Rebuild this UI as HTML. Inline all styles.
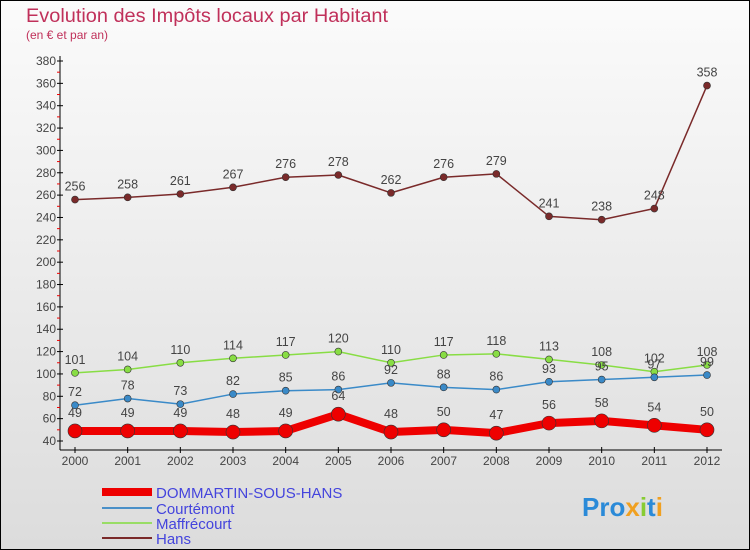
<!DOCTYPE html>
<html><head><meta charset="utf-8"><style>
body{margin:0;background:#fff}
svg{display:block;font-family:"Liberation Sans","DejaVu Sans",sans-serif}
</style></head><body>
<svg id="c" width="750" height="550" viewBox="0 0 750 550">
<defs><linearGradient id="bg" x1="0" y1="0" x2="0" y2="1"><stop offset="0" stop-color="#fbfbfb"/><stop offset="1" stop-color="#dcdcdc"/></linearGradient></defs>
<rect x="0.5" y="0.5" width="749" height="549" fill="url(#bg)" stroke="#000"/>
<text x="26" y="22" font-size="19" fill="#c0305a" textLength="362" lengthAdjust="spacingAndGlyphs">Evolution des Impôts locaux par Habitant</text>
<text x="26" y="39" font-size="12" fill="#c0305a">(en € et par an)</text>
<g id="axes"></g><g id="series"></g>
<g>
<line x1="102" y1="492" x2="152" y2="492" stroke="#ee0000" stroke-width="8"/>
<text x="156" y="498" font-size="15" fill="#4444dd">DOMMARTIN-SOUS-HANS</text>
<line x1="102" y1="508" x2="152" y2="508" stroke="#4a90c8" stroke-width="2"/>
<text x="156" y="514" font-size="15" fill="#4444dd">Courtémont</text>
<line x1="102" y1="523" x2="152" y2="523" stroke="#99dd66" stroke-width="2"/>
<text x="156" y="529" font-size="15" fill="#4444dd">Maffrécourt</text>
<line x1="102" y1="538" x2="152" y2="538" stroke="#7a2a2a" stroke-width="2"/>
<text x="156" y="544" font-size="15" fill="#4444dd">Hans</text>
</g>
<text x="582" y="516" font-size="26" font-weight="bold" fill="#2a8ad8">Pro<tspan fill="#f0a020">x</tspan><tspan fill="#88cc33">i</tspan>t<tspan fill="#f0a020">i</tspan></text>
</svg>
<script>
const years=[2000,2001,2002,2003,2004,2005,2006,2007,2008,2009,2010,2011,2012];
const yTicks=[40,60,80,100,120,140,160,180,200,220,240,260,280,300,320,340,360,380];
const dommartin=[49,49,49,48,49,64,48,50,47,56,58,54,50];
const courtemont=[72,78,73,82,85,86,92,88,86,93,95,97,99];
const maffrecourt=[101,104,110,114,117,120,110,117,118,113,108,102,108];
const hans=[256,258,261,267,276,278,262,276,279,241,238,248,358];
const NS='http://www.w3.org/2000/svg';
const x=i=>75+i*(707-75)/(years.length-1);
const y=v=>441-(v-40)*(441-61)/340;
function mk(tag,attrs,parent,txt){const e=document.createElementNS(NS,tag);for(const k in attrs)e.setAttribute(k,attrs[k]);if(txt!==undefined)e.textContent=txt;parent.appendChild(e);return e;}
const ax=document.getElementById('axes');
let e=mk('line',{x1:60,y1:56,x2:60,y2:450,stroke:'#000'},ax);


e=mk('line',{x1:60,y1:450,x2:722,y2:450,stroke:'#000'},ax);


yTicks.forEach(t=>{
 e=mk('line',{x1:57,y1:y(t),x2:63,y2:y(t),stroke:'#000'},ax);
 
 
 if(t<380){e=mk('line',{x1:57,y1:y(t+10),x2:60,y2:y(t+10),stroke:'#e00'},ax);
 
 }
 e=mk('text',{x:56,y:y(t)+4,'font-size':12,'text-anchor':'end',fill:'#444'},ax,t);
 
 
});
years.forEach((yr,i)=>{
 e=mk('line',{x1:x(i),y1:447,x2:x(i),y2:453,stroke:'#000'},ax);
 
 
 e=mk('text',{x:x(i),y:465,'font-size':12,'text-anchor':'middle',fill:'#444'},ax,yr);
 
 
});
const sg=document.getElementById('series');
function series(data,name,color,w,r,off){
 const g=mk('g',{},sg);
 
 
 const pl=mk('polyline',{points:data.map((v,i)=>x(i)+','+y(v)).join(' '),fill:'none',stroke:color,'stroke-width':w,'stroke-linejoin':'round'},g);
 
 
 data.forEach((v,i)=>{
  const c=mk('circle',{cx:x(i),cy:y(v),r:r,fill:color,stroke:'#333','stroke-width':0.6},g);
  
  
  const t=mk('text',{x:x(i),y:y(v)-off,'font-size':12.5,'text-anchor':'middle',fill:'#444'},g,v);
  
  
 });
}
series(hans,'hans','#7a2a2a',1.5,3.5,9);
series(maffrecourt,'maffrecourt','#88dd44',1.5,3.5,9);
series(courtemont,'courtemont','#3a8ac8',1.5,3.5,9);
series(dommartin,'dommartin','#ee0000',8,7,14);
</script>
</body></html>
